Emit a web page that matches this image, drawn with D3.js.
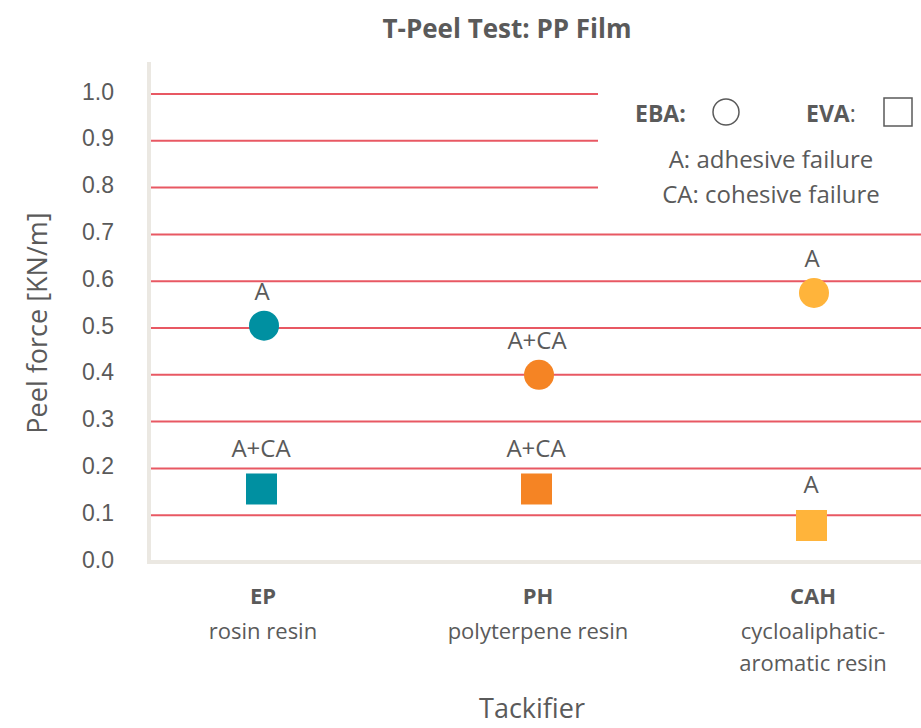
<!DOCTYPE html>
<html>
<head>
<meta charset="utf-8">
<script src="https://cdn.jsdelivr.net/npm/d3@7"></script>
<style>
  body { margin: 0; background: #fff; }
  svg { display: block; font-family: "Open Sans", sans-serif; }
</style>
</head>
<body>
<svg id="chart" width="921" height="728"></svg>
<script>
// data
const categories = ['EP', 'PH', 'CAH']
const categoryNames = [['rosin resin'], ['polyterpene resin'], ['cycloaliphatic-', 'aromatic resin']]
const ebaValues = [0.505, 0.40, 0.575]
const evaValues = [0.156, 0.156, 0.078]
const ebaLabels = ['A', 'A+CA', 'A']
const evaLabels = ['A+CA', 'A+CA', 'A']
const colors = ['#0090a1', '#f58424', '#ffb43b']
const yTicks = [0, 0.1, 0.2, 0.3, 0.4, 0.5, 0.6, 0.7, 0.8, 0.9, 1.0]

const svg = d3.select('#chart')
const textColor = '#5a5a5a'

const x = d3.scalePoint().domain(categories).range([264, 814])
const y = d3.scaleLinear().domain([0, 1]).range([562, 94])

// gridlines
svg.append('g')
  .selectAll('line')
  .data(yTicks.filter(d => d > 0))
  .enter()
  .append('line')
  .attr('x1', 151).attr('x2', 921)
  .attr('y1', d => y(d)).attr('y2', d => y(d))
  .attr('stroke', '#e85863')
  .attr('stroke-width', 2)

// axis lines
svg.append('line')
  .attr('x1', 149).attr('x2', 149).attr('y1', 62).attr('y2', 564)
  .attr('stroke', '#ebe8e2').attr('stroke-width', 4)
svg.append('line')
  .attr('x1', 147).attr('x2', 921).attr('y1', 562).attr('y2', 562)
  .attr('stroke', '#ebe8e2').attr('stroke-width', 4)

// y axis ticks
const yAxis = svg.append('g')
  .attr('transform', 'translate(114,0)')
  .call(d3.axisLeft(y).tickValues(yTicks).tickFormat(d3.format('.1f')).tickSize(0).tickPadding(0))
yAxis.select('.domain').remove()
yAxis.selectAll('text')
  .attr('font-size', 23)
  .attr('dy', '0.22em')
  .attr('fill', textColor)

// legend box hides the top gridlines on the right
svg.append('rect')
  .attr('x', 598).attr('y', 78).attr('width', 323).attr('height', 140)
  .attr('fill', '#fff')

const legend = svg.append('g').attr('fill', textColor)
legend.append('text').attr('x', 635).attr('y', 122).attr('font-size', 23).attr('font-weight', 'bold').text('EBA:')
legend.append('circle').attr('cx', 726).attr('cy', 112).attr('r', 13)
  .attr('fill', 'none').attr('stroke', textColor).attr('stroke-width', 1.5)
legend.append('text').attr('x', 806).attr('y', 122).attr('font-size', 23).attr('font-weight', 'bold').text('EVA')
  .append('tspan').attr('font-weight', 'normal').text(':')
legend.append('rect').attr('x', 884).attr('y', 98).attr('width', 28).attr('height', 28)
  .attr('fill', 'none').attr('stroke', textColor).attr('stroke-width', 1.5)
legend.append('text').attr('x', 771).attr('y', 168).attr('font-size', 24).attr('text-anchor', 'middle').text('A: adhesive failure')
legend.append('text').attr('x', 771).attr('y', 203).attr('font-size', 24).attr('text-anchor', 'middle').text('CA: cohesive failure')

// EBA circles
svg.append('g').selectAll('circle')
  .data(categories)
  .enter()
  .append('circle')
  .attr('cx', d => x(d))
  .attr('cy', (d, i) => y(ebaValues[i]))
  .attr('r', 15)
  .attr('fill', (d, i) => colors[i])

// EVA squares
svg.append('g').selectAll('rect')
  .data(categories)
  .enter()
  .append('rect')
  .attr('x', d => x(d) - 18)
  .attr('y', (d, i) => y(evaValues[i]) - 15.5)
  .attr('width', 31).attr('height', 31)
  .attr('fill', (d, i) => colors[i])

// failure labels
const labels = svg.append('g').attr('fill', textColor).attr('font-size', 24).attr('text-anchor', 'middle')
categories.forEach((c, i) => {
  labels.append('text').attr('x', x(c) - 2).attr('y', y(ebaValues[i]) - 26).text(ebaLabels[i])
  labels.append('text').attr('x', x(c) - 3).attr('y', y(evaValues[i]) - 32).text(evaLabels[i])
})

// category labels
const catG = svg.append('g').attr('fill', textColor).attr('text-anchor', 'middle')
categories.forEach((c, i) => {
  catG.append('text').attr('x', x(c) - 1).attr('y', 604)
    .attr('font-size', 22).attr('font-weight', 'bold').text(c)
  categoryNames[i].forEach((n, j) => {
    catG.append('text').attr('x', x(c) - 1).attr('y', 639 + j * 32)
      .attr('font-size', 22).text(n)
  })
})

// titles
svg.append('text')
  .attr('x', 507).attr('y', 38)
  .attr('text-anchor', 'middle').attr('font-size', 26).attr('font-weight', 'bold')
  .attr('fill', textColor).text('T-Peel Test: PP Film')
svg.append('text')
  .attr('x', 532).attr('y', 718)
  .attr('text-anchor', 'middle').attr('font-size', 27)
  .attr('fill', textColor).text('Tackifier')
svg.append('text')
  .attr('transform', 'translate(47,323) rotate(-90)')
  .attr('text-anchor', 'middle').attr('font-size', 27)
  .attr('fill', textColor).text('Peel force [KN/m]')
</script>
</body>
</html>
